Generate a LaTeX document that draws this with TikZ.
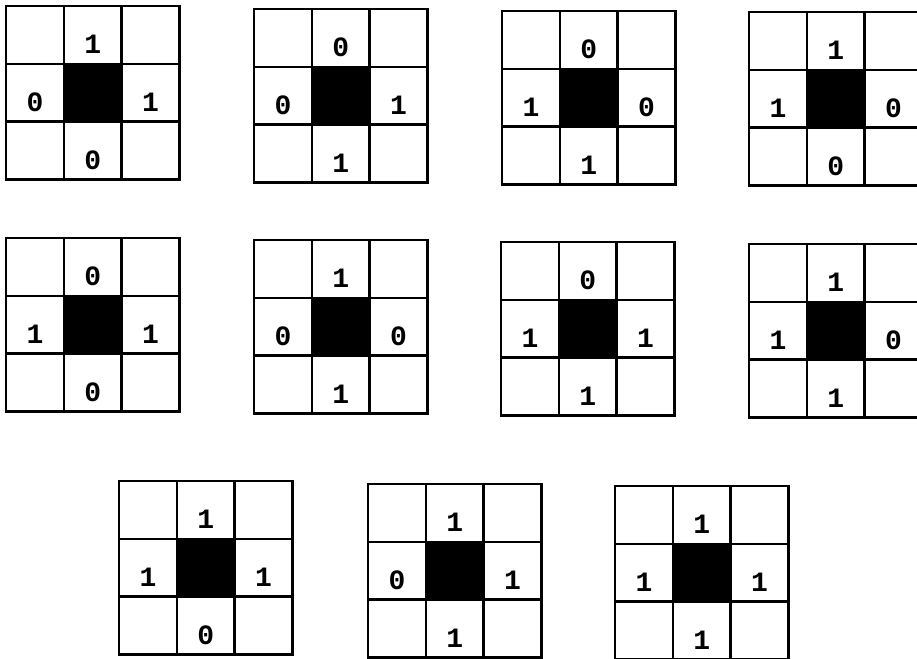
\documentclass[tikz,border=0pt]{standalone}
\usepackage{fontspec}
\setmonofont{Liberation Mono}
\usetikzlibrary{positioning}

\begin{document}
\begin{tikzpicture}[
  x=0.75pt, y=-0.75pt,
  cell/.style={
    draw,
    line width=1.8pt,
    minimum size=43.3pt,
    inner sep=0pt,
    anchor=north west,
    fill=white
  },
  hole/.style={cell, fill=black},
  bit/.style={font=\ttfamily\bfseries\fontsize{21}{21}\selectfont, yshift=-7pt}
]
\useasboundingbox (0,0) rectangle (917,658);
% one neighbourhood per entry: number/left/top/north/west/east/south
\foreach \g/\px/\py/\n/\w/\e/\s in {
    1/5/5/1/0/1/0, 2/253/8/0/0/1/1, 3/501/10/0/1/0/1, 4/748/11/1/1/0/0,
    5/5/237/0/1/1/0, 6/253/239/1/0/0/1, 7/500/241/0/1/1/1, 8/748/243/1/1/0/1,
    9/118/480/1/1/1/0, 10/367/483/1/0/1/1, 11/614/485/1/1/1/1} {
  \foreach \i/\j in {0/0,1/0,2/0,0/1,2/1,0/2,1/2,2/2}
    \node[cell] (g\g-\i\j) at ({\px+\i*57.7},{\py+\j*57.7}) {};
  \node[hole] (g\g-11) at ({\px+57.7},{\py+57.7}) {};
  \node[bit] (g\g-n) at (g\g-10.center) {\n};
  \node[bit] (g\g-w) at (g\g-01.center) {\w};
  \node[bit] (g\g-e) at (g\g-21.center) {\e};
  \node[bit] (g\g-s) at (g\g-12.center) {\s};
}
\end{tikzpicture}
\end{document}
